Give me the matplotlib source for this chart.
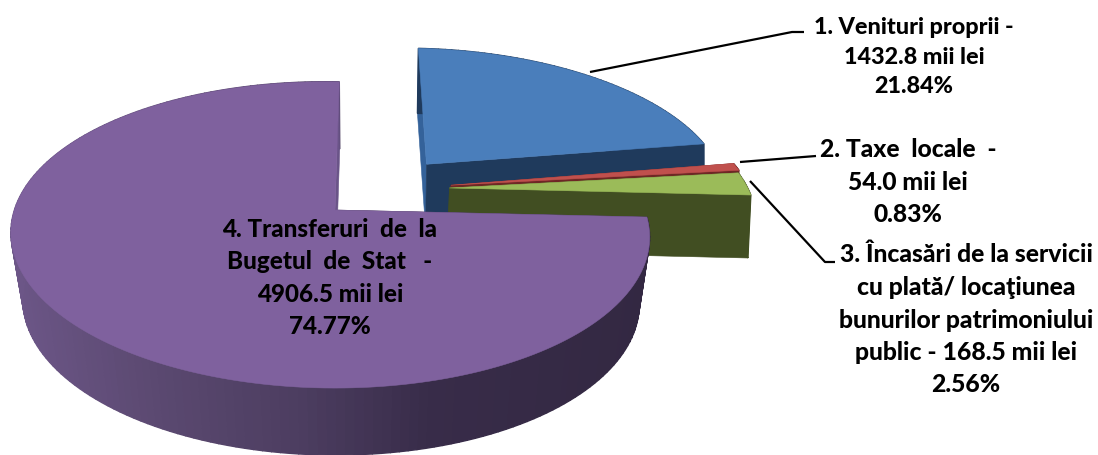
import numpy as np
import matplotlib
matplotlib.use("Agg")
import matplotlib.pyplot as plt
from matplotlib.colors import to_rgb
from matplotlib.patches import Polygon

# ---- data ----
values = [1432.8, 54.0, 168.5, 4906.5]
labels = [
    "1. Venituri proprii -\n1432.8 mii lei\n21.84%",
    "2. Taxe  locale  -\n54.0 mii lei\n0.83%",
    "3. Încasări de la servicii\ncu plată/ locaţiunea\nbunurilor patrimoniului\npublic - 168.5 mii lei\n2.56%",
    "4. Transferuri  de  la\nBugetul  de  Stat   -\n4906.5 mii lei\n74.77%",
]

# ---- style / layout ----
top_colors = ["#4a7ebb", "#c0504d", "#9bbb59", "#7f619e"]
wall_colors = ["#1f3a5c", "#6e2725", "#414e22", "#352a45"]
start_face_colors = ["#34629a", "#6e2725", "#414e22", "#6a5488"]
explode = [(0.302, 0.335), (0.378, 0.185), (0.372, 0.165), (0.0, 0.0)]
bottom_scale = [1.0034, 0.997, 0.997, 0.965]
bottom_shift = [-1.2, -1.7, -1.7, 0.6]
wall_height = [65.0, 65.0, 63.0, 67.0]
label_pos = [(914, 57), (908, 182), (966, 320), (330, 278)]
label_size = [16.8, 17.7, 17.8, 17.5]
leaders = [
    ([590, 792, 804], [72, 32, 32]),
    ([740, 816], [162, 156]),
    ([750, 825, 835], [181, 262, 262]),
]
purple_stops_x = [10, 150, 300, 430, 650]
purple_stops_c = ["#6c5687", "#5b4971", "#4c3d60", "#382c49", "#332842"]

CX, CY, RX, RY = 335.0, 210.0, 315.0, 149.0
P, Q, SHEAR, TILT = 0.163, 0.012, 5.0, -5.0

fig = plt.figure(figsize=(10.98, 4.55), dpi=100)
ax = fig.add_axes([0, 0, 1, 1])
ax.set_xlim(0, 1098)
ax.set_ylim(455, 0)
ax.axis("off")


def project(theta, r, off):
    u = r * np.sin(theta) + off[0]
    v = r * np.cos(theta) + off[1]
    w = 1 + P * v + Q * u
    x = CX + (RX * u + SHEAR * v) / w
    y = CY - (RY * v + TILT * u) / w
    return x, y


def lower(x, y, i):
    return CX + (x - CX) * bottom_scale[i] + bottom_shift[i], y + wall_height[i]


def fill(xs, ys, color, z, lw=0.4):
    ax.add_patch(Polygon(np.column_stack([xs, ys]), closed=True, facecolor=color,
                         edgecolor=color, linewidth=lw, zorder=z))


def purple_shade(x):
    rgb = np.array([to_rgb(c) for c in purple_stops_c])
    return tuple(np.interp(x, purple_stops_x, rgb[:, k]) for k in range(3))


fractions = np.array(values) / np.sum(values)
edges = np.concatenate([[0], np.cumsum(fractions)]) * 2 * np.pi

for i in range(len(values)):
    z = 10 * (i + 1)
    off = explode[i]
    th = np.linspace(edges[i], edges[i + 1], max(12, int((edges[i + 1] - edges[i]) * 40)))
    ax_, ay_ = project(0.0, 0.0, off)
    lax, lay = lower(ax_, ay_, i)

    # two radial cut faces
    for t, col in ((edges[i], wall_colors[i]), (edges[i + 1], wall_colors[i])):
        if i == 0 and t == edges[0]:
            col = start_face_colors[0]
        if i == 3 and t == edges[4]:
            col = start_face_colors[3]
        ex, ey = project(t, 1.0, off)
        lx, ly = lower(ex, ey, i)
        fill([ax_, ex, lx, lax], [ay_, ey, ly, lay], col, z + (1 if t == edges[i + 1] else 0))

    # outer rim
    x, y = project(th, 1.0, off)
    lx, ly = lower(x, y, i)
    for k in range(len(th) - 1):
        c = purple_shade(0.5 * (x[k] + x[k + 1])) if i == 3 else wall_colors[i]
        fill([x[k], x[k + 1], lx[k + 1], lx[k]], [y[k], y[k + 1], ly[k + 1], ly[k]], c, z + 0.5, lw=1.0)

    # top face
    fill(np.r_[ax_, x], np.r_[ay_, y], top_colors[i], z + 2)

for xs, ys in leaders:
    ax.plot(xs, ys, color="black", lw=1.6, zorder=60, solid_capstyle="butt")

for s, (tx, ty), fs in zip(labels, label_pos, label_size):
    ax.text(tx, ty, s, ha="center", va="center", fontsize=fs, fontweight="black",
            family=["Lato", "DejaVu Sans"], color="black", linespacing=1.5, zorder=70)

fig.savefig("out.png", dpi=100, facecolor="white")
